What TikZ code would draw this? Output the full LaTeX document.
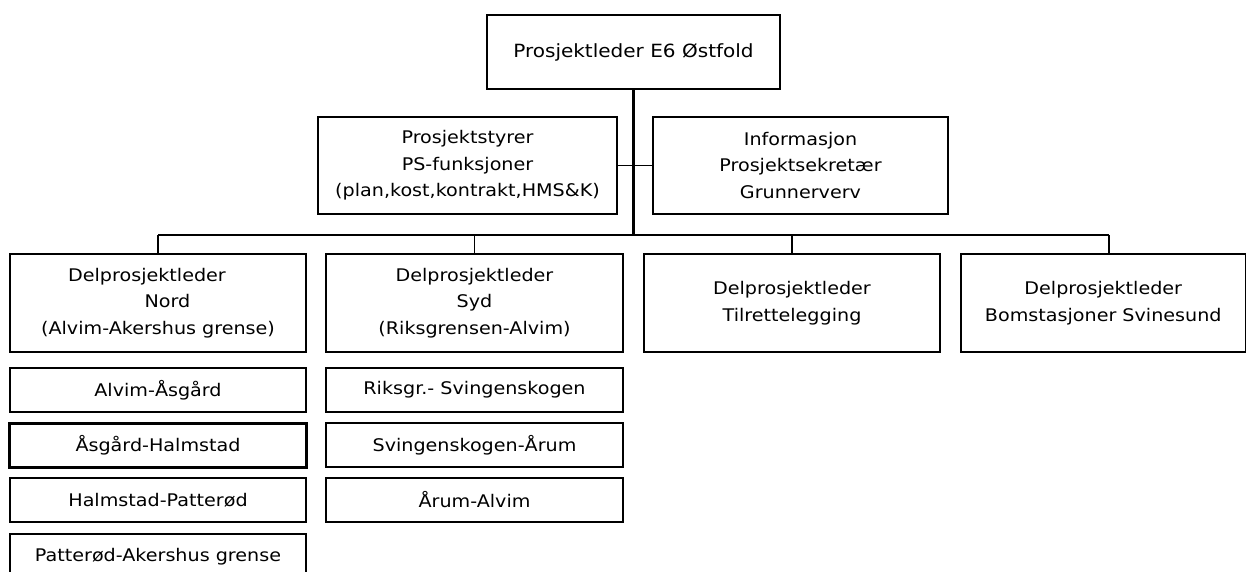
\documentclass[tikz,border=0pt]{standalone}
\usepackage{fontspec}
\setmainfont[FakeStretch=1.1]{DejaVu Sans}
\begin{document}
\begin{tikzpicture}[x=1pt,y=-1pt,
  box/.style={draw=black,line width=1.5pt,rectangle,inner sep=0pt,align=center,
    font=\fontsize{17.4}{26.5}\selectfont},
  bigbox/.style={box,line width=3.5pt},
  bus/.style={line width=2pt},
  drop/.style={line width=1.7pt},
  trunk/.style={line width=3.6pt}]
\useasboundingbox (0,0) rectangle (1247,572);
\clip (0,0) rectangle (1247,572);
% top
\node[box,minimum width=293pt,minimum height=74pt,font=\fontsize{18.2}{26.5}\selectfont] (top) at (633.5,52) {Prosjektleder E6 Østfold};
% staff
\node[box,minimum width=299pt,minimum height=97pt] (ps) at (467.5,165.5) {Prosjektstyrer\\PS-funksjoner\\(plan,kost,kontrakt,HMS\&K)};
\node[box,minimum width=295pt,minimum height=97pt] (info) at (800.5,165.5) {Informasjon\\Prosjektsekretær\\Grunnerverv};
% sub-project leaders
\node[box,minimum width=296pt,minimum height=98pt] (nord) at (158,303) {Delprosjektleder\hspace*{22pt}\\\hspace*{19pt}Nord\\(Alvim-Akershus grense)};
\node[box,minimum width=297pt,minimum height=98pt] (syd) at (474.5,303) {Delprosjektleder\\Syd\\(Riksgrensen-Alvim)};
\node[box,minimum width=296pt,minimum height=98pt] (til) at (792,303) {Delprosjektleder\\Tilrettelegging};
\node[box,minimum width=284.5pt,minimum height=98pt] (bom) at (1103.25,303) {Delprosjektleder\\Bomstasjoner Svinesund};
% Nord sections
\node[box,minimum width=296pt,minimum height=44pt] (n1) at (158,390) {Alvim-Åsgård};
\node[bigbox,minimum width=297pt,minimum height=44pt] (n2) at (158,445.5) {Åsgård-Halmstad};
\node[box,minimum width=296pt,minimum height=44pt] (n3) at (158,500) {Halmstad-Patterød};
\node[box,minimum width=296pt,minimum height=46pt] (n4) at (158,557) {Patterød-Akershus grense};
% Syd sections
\node[box,minimum width=297pt,minimum height=44pt] (s1) at (474.5,390) {Riksgr.- Svingenskogen};
\node[box,minimum width=297pt,minimum height=44pt] (s2) at (474.5,445) {Svingenskogen-Årum};
\node[box,minimum width=297pt,minimum height=44pt] (s3) at (474.5,500) {Årum-Alvim};
% connectors
\coordinate (bl) at (158,235);
\coordinate (br) at (1109,235);
\draw[drop] (ps.east) -- (info.west);
\draw[bus] (bl) -- (br);
\draw[drop] (nord.north) -- (nord.north |- bl);
\draw[drop] (syd.north) -- (syd.north |- bl);
\draw[drop] (til.north) -- (til.north |- bl);
\draw[drop] (br) -- (br |- bom.north);
\draw[trunk] (top.south) -- ([yshift=1pt]top.south |- bl);
\end{tikzpicture}
\end{document}
